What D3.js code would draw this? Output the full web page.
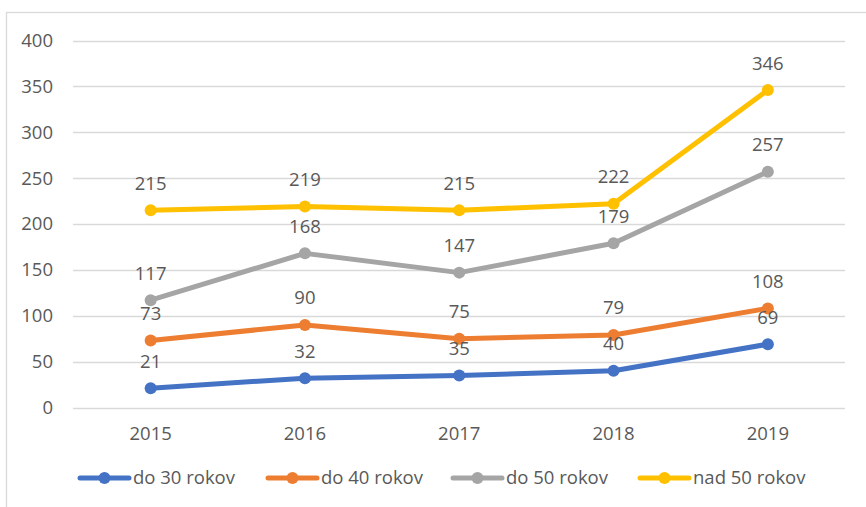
<!DOCTYPE html>
<html>
<head>
<meta charset="utf-8">
<script src="https://cdn.jsdelivr.net/npm/d3@7"></script>
<style>
  body { margin: 0; background: #fff; }
  svg text { font-family: "Open Sans", "Liberation Sans", sans-serif; fill: #595959; }
</style>
</head>
<body>
<div id="chart"></div>
<script>
var svgWidth = 866
var svgHeight = 507

// chart data
var years = ["2015", "2016", "2017", "2018", "2019"]
var seriesNames = ["do 30 rokov", "do 40 rokov", "do 50 rokov", "nad 50 rokov"]
var do30 = [21, 32, 35, 40, 69]
var do40 = [73, 90, 75, 79, 108]
var do50 = [117, 168, 147, 179, 257]
var nad50 = [215, 219, 215, 222, 346]
var yTicks = [0, 50, 100, 150, 200, 250, 300, 350, 400]
var colors = ["#4472C4", "#ED7D31", "#A5A5A5", "#FFC000"]

var fontSize = 18.5

var allSeries = [do30, do40, do50, nad50].map(function(vals, i) {
    return { name: seriesNames[i], color: colors[i], values: vals }
})

var svg = d3.select("#chart")
    .append("svg")
    .attr("width", svgWidth)
    .attr("height", svgHeight)

// outer chart border
svg.append("rect")
    .attr("x", 6.5)
    .attr("y", 12.5)
    .attr("width", 900)
    .attr("height", 600)
    .attr("fill", "none")
    .attr("stroke", "#D9D9D9")
    .attr("stroke-width", 1.3)

var xScale = d3.scaleBand()
    .domain(years)
    .range([73.5, 845])

var yScale = d3.scaleLinear()
    .domain([0, 400])
    .range([407.5, 40.5])

// gridlines
svg.append("g")
    .selectAll("line")
    .data(yTicks)
    .enter()
    .append("line")
    .attr("x1", 73)
    .attr("x2", 845)
    .attr("y1", d => Math.round(yScale(d)) + 0.5)
    .attr("y2", d => Math.round(yScale(d)) + 0.5)
    .attr("stroke", "#D9D9D9")
    .attr("stroke-width", 1.5)

// y labels
svg.append("g")
    .selectAll("text")
    .data(yTicks)
    .enter()
    .append("text")
    .attr("x", 53)
    .attr("y", d => yScale(d))
    .attr("dy", "0.35em")
    .attr("text-anchor", "end")
    .attr("font-size", fontSize)
    .text(d => d)

// x labels
svg.append("g")
    .selectAll("text")
    .data(years)
    .enter()
    .append("text")
    .attr("x", d => xScale(d) + xScale.bandwidth() / 2)
    .attr("y", 434)
    .attr("dy", "0.35em")
    .attr("text-anchor", "middle")
    .attr("font-size", fontSize)
    .text(d => d)

var cx = d => xScale(d) + xScale.bandwidth() / 2

var line = d3.line()
    .x((d, i) => cx(years[i]))
    .y(d => yScale(d))

allSeries.forEach(function(s) {
    var g = svg.append("g")
    g.append("path")
        .attr("d", line(s.values))
        .attr("fill", "none")
        .attr("stroke", s.color)
        .attr("stroke-width", 5)
        .attr("stroke-linejoin", "round")
        .attr("stroke-linecap", "round")
    g.selectAll("circle")
        .data(s.values)
        .enter()
        .append("circle")
        .attr("cx", (d, i) => cx(years[i]))
        .attr("cy", d => yScale(d))
        .attr("r", 6)
        .attr("fill", s.color)
})

// value labels
allSeries.forEach(function(s) {
    svg.append("g")
        .selectAll("text")
        .data(s.values)
        .enter()
        .append("text")
        .attr("x", (d, i) => cx(years[i]))
        .attr("y", d => yScale(d) - 27)
        .attr("dy", "0.35em")
        .attr("text-anchor", "middle")
        .attr("font-size", fontSize)
        .text(d => d)
})

// legend
var legendX = [80, 268, 453, 640]
var legend = svg.append("g")
    .selectAll("g")
    .data(allSeries)
    .enter()
    .append("g")
    .attr("transform", (d, i) => `translate(${legendX[i]}, 478)`)

legend.append("line")
    .attr("x1", 0)
    .attr("x2", 49)
    .attr("stroke", d => d.color)
    .attr("stroke-width", 5)
    .attr("stroke-linecap", "round")
legend.append("circle")
    .attr("cx", 24.5)
    .attr("r", 6)
    .attr("fill", d => d.color)
legend.append("text")
    .attr("x", 53)
    .attr("dy", "0.35em")
    .attr("font-size", fontSize)
    .text(d => d.name)
</script>
</body>
</html>
